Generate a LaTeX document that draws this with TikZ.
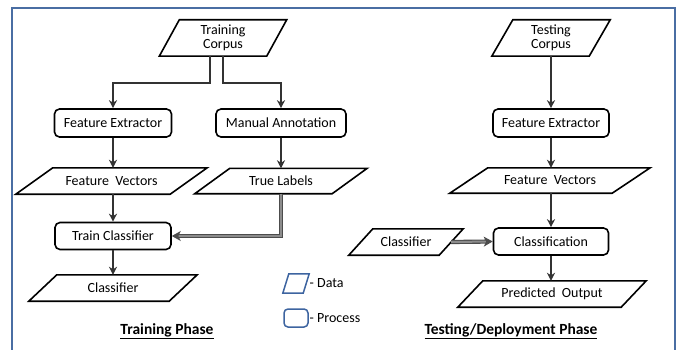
\documentclass[tikz,border=0pt]{standalone}
\usepackage{fontspec}
\setmainfont{Carlito}
\usetikzlibrary{arrows.meta,calc}
\definecolor{frameblue}{HTML}{4A6EA3}
\definecolor{legblue}{HTML}{3D64A0}
\begin{document}
\begin{tikzpicture}[x=1pt,y=-1pt,
  every node/.style={font=\fontsize{14}{16}\selectfont, inner sep=1pt},
  proc/.style={draw=black, line width=1.6pt, rounded corners=5pt, minimum height=28pt},
  dat/.style={minimum height=#1},
  datab/.style={draw=black, line width=1.6pt, line join=miter},
  arr/.style={draw=black!80, line width=1.8pt, -{Stealth[length=8pt,width=8pt,inset=2.5pt]}},
  dbl/.style={draw=black!70, double=black!45, double distance=2pt, line width=1.1pt, -{Stealth[length=9pt,width=10pt,inset=2.5pt]}},
  title/.style={font=\fontsize{15.5}{17}\selectfont\bfseries},
  legtext/.style={anchor=west, inner sep=0pt}
]
\useasboundingbox (0,0) rectangle (680,350);
% frame
\draw[frameblue, line width=2pt] (12,352) -- (12,8) -- (675,8) -- (675,352);

% training phase
\node[dat=36pt, minimum width=107pt, align=center] (tc) at (223,38) {Training\\[-2pt]Corpus};
\node[proc, minimum width=117pt] (fe1) at (113,123) {Feature Extractor};
\node[proc, minimum width=130pt] (ma) at (281,123) {Manual Annotation};
\node[dat=26pt, minimum width=154pt] (fv1) at (111.5,181) {Feature\ \ Vectors};
\node[dat=25pt, minimum width=137pt] (tl) at (281,181) {True Labels};
\node[proc, minimum width=116pt, minimum height=27pt] (trc) at (113,236) {Train Classifier};
\node[dat=26pt, minimum width=140pt] (cl1) at (113,288) {Classifier};

% testing phase
\node[dat=36pt, minimum width=97pt, align=center] (tsc) at (551,38) {Testing\\[-2pt]Corpus};
\node[proc, minimum width=116pt] (fe2) at (551,123) {Feature Extractor};
\node[dat=25pt, minimum width=162pt] (fv2) at (550,180.5) {Feature\ \ Vectors};
\node[proc, minimum width=115pt, minimum height=27pt] (cls) at (551,241.5) {Classification};
\node[dat=26pt, minimum width=90pt] (cl2) at (406,242) {Classifier};
\node[dat=26pt, minimum width=163pt] (po) at (552,294) {Predicted\ \ Output};

% parallelogram outlines
\foreach \n/\s in {tc/20, fv1/37, tl/35, cl1/28, tsc/21, fv2/38, cl2/24, po/25}
  \draw[datab] ([xshift=-0.5*\s]\n.south west) -- ([xshift=-0.5*\s]\n.south east)
     -- ([xshift=0.5*\s]\n.north east) -- ([xshift=0.5*\s]\n.north west) -- cycle;

% connectors training
\draw[arr] ([xshift=-13pt]tc.south) -- ++(0,27) -| (fe1.north);
\draw[arr] (tc.south) -- ++(0,27) -| (ma.north);
\draw[arr] (fe1.south) -- (fe1.south |- fv1.north);
\draw[arr] (ma.south) -- (ma.south |- tl.north);
\draw[arr] (fv1.south -| trc.north) -- (trc.north);
\draw[dbl] (tl.south) |- (trc.east);
\draw[arr] (trc.south) -- (trc.south |- cl1.north);

% connectors testing
\draw[arr] (tsc.south) -- (tsc.south |- fe2.north);
\draw[arr] (fe2.south) -- (fe2.south |- fv2.north);
\draw[arr] (fv2.south -| cls.north) -- (cls.north);
\draw[arr] (cls.south) -- (cls.south |- po.north);
\draw[dbl] (cl2.east) -- (cls.west);

% legend
\node[minimum width=20pt, minimum height=19pt, inner sep=0pt] (lgd) at (296,283.5) {};
\draw[legblue, line width=1.5pt] ([xshift=-3pt]lgd.south west) -- ([xshift=-3pt]lgd.south east)
   -- ([xshift=3pt]lgd.north east) -- ([xshift=3pt]lgd.north west) -- cycle;
\node[draw=legblue, line width=1.5pt, rounded corners=4pt, minimum width=24pt, minimum height=18pt, inner sep=0pt] (lgp) at (296,318) {};
\node[legtext] (lgdt) at (309.5,283) {- Data};
\node[legtext] (lgpt) at (309.5,318) {- Process};

% titles
\node[title] (tp) at (167,331) {\underline{Training Phase}};
\node[title] (tdp) at (511,331) {\underline{Testing/Deployment Phase}};
\end{tikzpicture}
\end{document}
